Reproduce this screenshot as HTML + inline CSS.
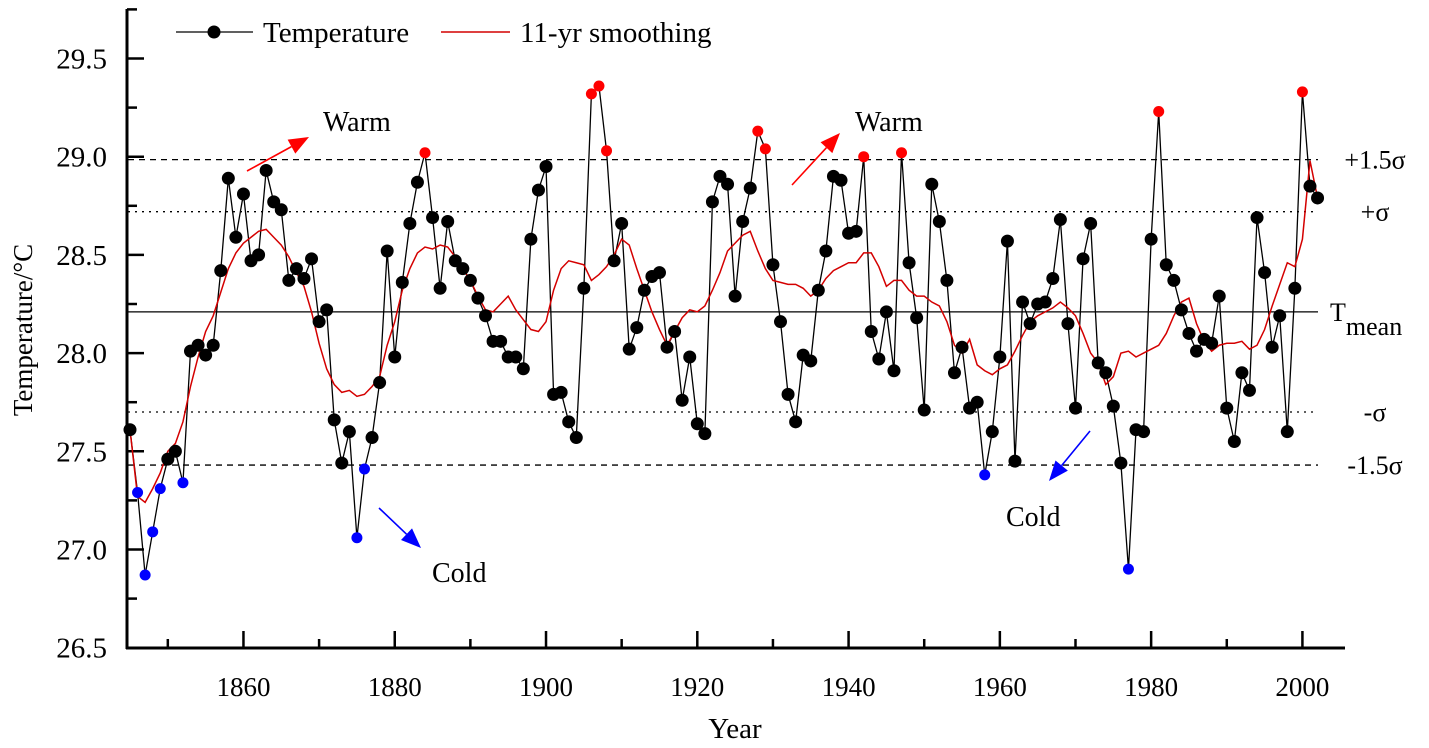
<!DOCTYPE html>
<html><head><meta charset="utf-8"><style>
html,body{margin:0;padding:0;background:#fff;}
svg{display:block;}
text{font-family:"Liberation Serif","Times New Roman",serif;}
</style></head><body>
<svg id="chart" width="1429" height="748" viewBox="0 0 1429 748" font-family="Liberation Serif, serif"></svg>
<script>
const years=[];for(let y=1845;y<=2002;y++)years.push(y);
const temperature=[27.61,27.29,26.87,27.09,27.31,27.46,27.50,27.34,28.01,28.04,27.99,28.04,28.42,28.89,28.59,28.81,28.47,28.50,28.93,28.77,28.73,28.37,28.43,28.38,28.48,28.16,28.22,27.66,27.44,27.60,27.06,27.41,27.57,27.85,28.52,27.98,28.36,28.66,28.87,29.02,28.69,28.33,28.67,28.47,28.43,28.37,28.28,28.19,28.06,28.06,27.98,27.98,27.92,28.58,28.83,28.95,27.79,27.80,27.65,27.57,28.33,29.32,29.36,29.03,28.47,28.66,28.02,28.13,28.32,28.39,28.41,28.03,28.11,27.76,27.98,27.64,27.59,28.77,28.90,28.86,28.29,28.67,28.84,29.13,29.04,28.45,28.16,27.79,27.65,27.99,27.96,28.32,28.52,28.90,28.88,28.61,28.62,29.00,28.11,27.97,28.21,27.91,29.02,28.46,28.18,27.71,28.86,28.67,28.37,27.90,28.03,27.72,27.75,27.38,27.60,27.98,28.57,27.45,28.26,28.15,28.25,28.26,28.38,28.68,28.15,27.72,28.48,28.66,27.95,27.90,27.73,27.44,26.90,27.61,27.60,28.58,29.23,28.45,28.37,28.22,28.10,28.01,28.07,28.05,28.29,27.72,27.55,27.90,27.81,28.69,28.41,28.03,28.19,27.60,28.33,29.33,28.85,28.79];
const smoothing=[27.61,27.27,27.24,27.31,27.39,27.50,27.54,27.65,27.83,27.98,28.11,28.19,28.31,28.43,28.51,28.56,28.59,28.62,28.63,28.59,28.55,28.49,28.41,28.34,28.21,28.05,27.92,27.84,27.80,27.81,27.78,27.79,27.83,27.88,28.04,28.16,28.32,28.43,28.51,28.54,28.53,28.55,28.54,28.49,28.43,28.37,28.29,28.22,28.21,28.25,28.29,28.22,28.17,28.12,28.11,28.16,28.32,28.43,28.47,28.46,28.45,28.37,28.40,28.44,28.50,28.58,28.55,28.43,28.32,28.21,28.12,28.04,28.11,28.18,28.22,28.21,28.24,28.32,28.41,28.52,28.56,28.60,28.62,28.52,28.43,28.37,28.36,28.35,28.35,28.33,28.29,28.32,28.38,28.42,28.44,28.46,28.46,28.51,28.51,28.44,28.34,28.37,28.37,28.32,28.29,28.29,28.26,28.24,28.16,28.04,28.00,28.07,27.94,27.91,27.89,27.92,27.94,28.01,28.09,28.16,28.19,28.21,28.23,28.26,28.23,28.19,28.10,28.00,27.95,27.84,27.88,28.00,28.01,27.98,28.00,28.02,28.04,28.10,28.19,28.26,28.28,28.15,28.06,28.01,28.04,28.05,28.05,28.06,28.02,28.04,28.12,28.24,28.35,28.46,28.44,28.58,28.98,28.79];
const refValues=[28.985,28.72,28.21,27.70,27.43];
const refLabels=["+1.5σ","+σ","T","-σ","-1.5σ"];
const refStyles=["6,5","2,5","","2,5","6,5"];
const yTicks=[26.5,27.0,27.5,28.0,28.5,29.0,29.5];
const xTicks=[1860,1880,1900,1920,1940,1960,1980,2000];
const hiThreshold=28.985, loThreshold=27.43;

const NS="http://www.w3.org/2000/svg";
const svg=document.getElementById('chart');
const X0=130,XS=7.564,Y0=156.7,YS=196.4;
const FF='Liberation Serif, Times New Roman, serif';
function xs(y){return X0+(y-1845)*XS;}
function ys(v){return Y0-(v-29.0)*YS;}
function el(t,a,p){const e=document.createElementNS(NS,t);for(const k in a)e.setAttribute(k,a[k]);(p||svg).appendChild(e);return e;}
function txt(s,a){a['font-family']=FF;const e=el('text',a);e.textContent=s;return e;}

// axes
const ax=el('line',{x1:127,y1:9,x2:127,y2:649,stroke:'#000','stroke-width':3});


const bx=el('line',{x1:126,y1:648,x2:1345,y2:648,stroke:'#000','stroke-width':3});


for(let v=26.5;v<=29.76;v+=0.25){const y=ys(v);const major=Math.abs(v*2-Math.round(v*2))<0.01;
 el('line',{x1:127,y1:y,x2:major?144:137,y2:y,stroke:'#000','stroke-width':2.5});}
yTicks.forEach(v=>{const t=txt(v.toFixed(1),{x:107,y:ys(v)+10,'font-size':29,'text-anchor':'end'});
 
 });
for(let yr=1850;yr<=2000;yr+=10){const x=xs(yr);const major=yr%20==0;
 el('line',{x1:x,y1:648,x2:x,y2:major?631:639,stroke:'#000','stroke-width':2.5});}
xTicks.forEach(v=>{const t=txt(String(v),{x:xs(v),y:696,'font-size':27,'text-anchor':'middle'});
 
 });
const yt=txt('Temperature/°C',{x:0,y:0,'font-size':27,'text-anchor':'middle',transform:'translate(32,330) rotate(-90)'});


const xt=txt('Year',{x:735,y:738,'font-size':29,'text-anchor':'middle'});



// reference lines
refValues.forEach((v,i)=>{const y=ys(v);
 const l=el('line',{x1:128,y1:y,x2:1318,y2:y,stroke:'#000','stroke-width':1.3});
 if(refStyles[i])l.setAttribute('stroke-dasharray',refStyles[i]);
 
 
 const t=txt(refLabels[i],{x:1375,y:y+9,'font-size':26,'text-anchor':'middle'});
 if(i==2){t.setAttribute('x',1330);t.setAttribute('text-anchor','start');
  const s=el('tspan',{dy:14,'font-size':26},t);s.textContent='mean';}
 
 });

// series
const tp=el('polyline',{points:years.map((y,i)=>xs(y)+','+ys(temperature[i])).join(' '),fill:'none',stroke:'#000','stroke-width':1.3});


const sp=el('polyline',{points:years.map((y,i)=>xs(y)+','+ys(smoothing[i])).join(' '),fill:'none',stroke:'#d40000','stroke-width':1.5});


years.forEach((y,i)=>{const v=temperature[i];
 const c=v>=hiThreshold?'#ff0000':(v<=loThreshold?'#0000ff':'#000');
 const p=el('circle',{cx:xs(y),cy:ys(v),r:c=='#000'?6.5:5.5,fill:c});
 
 });

// annotations
function arrow(x1,y1,x2,y2,col,name){const g=el('g',{});
 
 
 const a=Math.atan2(y2-y1,x2-x1),L=20,W=8;
 const bxp=x2-L*Math.cos(a),byp=y2-L*Math.sin(a);
 el('line',{x1:x1,y1:y1,x2:bxp,y2:byp,stroke:col,'stroke-width':1.6},g);
 el('polygon',{points:`${x2},${y2} ${bxp+W*Math.sin(a)},${byp-W*Math.cos(a)} ${bxp-W*Math.sin(a)},${byp+W*Math.cos(a)}`,fill:col},g);}
arrow(247,171,309,137,'#ff0000','warm-arrow');
arrow(792,185,840,133,'#ff0000','warm-arrow');
arrow(379,508,421,548,'#0000ff','cold-arrow');
arrow(1090,431,1049,481,'#0000ff','cold-arrow');
[['Warm',323,131],['Warm',855,131],['Cold',432,582],['Cold',1006,526]].forEach(a=>{
 const t=txt(a[0],{x:a[1],y:a[2],'font-size':28});
 
 });

// legend
const lg=el('g',{});


el('line',{x1:176,y1:32,x2:253,y2:32,stroke:'#000','stroke-width':1.3},lg);
el('circle',{cx:214,cy:32,r:6.5,fill:'#000'},lg);
const l1=txt('Temperature',{x:263,y:42,'font-size':29});lg.appendChild(l1);
el('line',{x1:441,y1:32,x2:510,y2:32,stroke:'#d40000','stroke-width':1.5},lg);
const l2=txt('11-yr smoothing',{x:520,y:42,'font-size':29});lg.appendChild(l2);
</script>
</body></html>
